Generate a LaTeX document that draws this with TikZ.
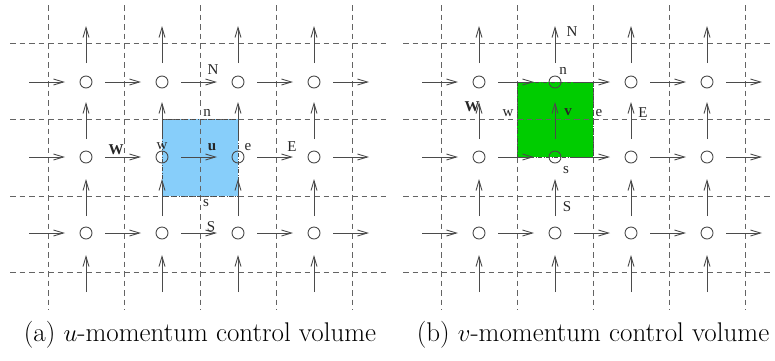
\documentclass[tikz,border=0pt]{standalone}
\usepackage{fontspec}
\newfontfamily\lblfont{Liberation Serif}
\usetikzlibrary{arrows.meta}
\definecolor{cvblue}{RGB}{135,206,250}
\definecolor{cvgreen}{RGB}{0,204,0}
\definecolor{gridgray}{RGB}{100,100,100}
\definecolor{arrgray}{RGB}{75,75,75}
\begin{document}
\begin{tikzpicture}[x=1pt,y=-1pt,
  gridline/.style={gridgray, line width=0.75pt, dash pattern=on 5.5pt off 4pt},
  flow/.style={arrgray, line width=0.9pt, -{Straight Barb[length=10pt,width=6pt]}},
  pnode/.style={circle, draw=arrgray, line width=0.9pt, minimum size=12pt, inner sep=0pt},
  lbl/.style={font=\lblfont\fontsize{15}{15}\selectfont, inner sep=0pt, text=black!85},
  blbl/.style={font=\lblfont\bfseries\fontsize{15}{15}\selectfont, inner sep=0pt, text=black!85},
  captext/.style={font=\fontsize{27}{30}\selectfont, inner sep=0pt},
  cvbox/.style={draw=arrgray, line width=0.6pt, dash pattern=on 4pt off 1.5pt on 1pt off 1.5pt}]
\useasboundingbox (0,0) rectangle (775,360);

% ---------- panel (a) ----------
\fill[cvblue] (162,119) rectangle (238,196);
\foreach \x in {48,124,200,276,352} \draw[gridline] (\x,5) -- (\x,310);
\foreach \y in {43,119,196,272} \draw[gridline] (10,\y) -- (388,\y);
\draw[cvbox] (162,119) rectangle (238,196);
\foreach \cx in {86,162,238,314} \foreach \cy in {82,157,233}
  \node[pnode] (a-\cx-\cy) at (\cx,\cy) {};
\foreach \x in {48,124,200,276,352} \foreach \cy in {82,157,233}
  \draw[flow] (\x-19,\cy) -- (\x+17,\cy);
\foreach \cx in {86,162,238,314} \foreach \y in {43,119,196,272}
  \draw[flow] (\cx,\y+20) -- (\cx,\y-17);
\node[lbl]  (aN) at (213,70)  {N};
\node[lbl]  (an) at (207,113) {n};
\node[blbl] (aW) at (116,150) {W};
\node[lbl]  (aw) at (162,146) {w};
\node[blbl] (au) at (212,147) {u};
\node[lbl]  (ae) at (248,147) {e};
\node[lbl]  (aE) at (292,147) {E};
\node[lbl]  (as) at (206,203) {s};
\node[lbl]  (aS) at (211,227) {S};
\node[captext] (capa) at (200,335) {(a) $u$-momentum control volume};

% ---------- panel (b) ----------
\fill[cvgreen] (517,82) rectangle (593,157);
\foreach \x in {441,517,593,669,745} \draw[gridline] (\x,5) -- (\x,310);
\foreach \y in {43,119,196,272} \draw[gridline] (403,\y) -- (773,\y);
\draw[cvbox] (517,82) rectangle (593,157);
\foreach \cx in {479,555,631,707} \foreach \cy in {82,157,233}
  \node[pnode] (b-\cx-\cy) at (\cx,\cy) {};
\foreach \x in {441,517,593,669,745} \foreach \cy in {82,157,233}
  \draw[flow] (\x-19,\cy) -- (\x+17,\cy);
\foreach \cx in {479,555,631,707} \foreach \y in {43,119,196,272}
  \draw[flow] (\cx,\y+20) -- (\cx,\y-17);
\node[lbl]  (bN) at (572,32)  {N};
\node[lbl]  (bn) at (563,71)  {n};
\node[blbl] (bW) at (472,107) {W};
\node[lbl]  (bw) at (508,113) {w};
\node[blbl] (bv) at (568,112) {v};
\node[lbl]  (be) at (599,113) {e};
\node[lbl]  (bE) at (643,113) {E};
\node[lbl]  (bs) at (566,170) {s};
\node[lbl]  (bS) at (567,207) {S};
\node[captext] (capb) at (593,335) {(b) $v$-momentum control volume};
\end{tikzpicture}
\end{document}
